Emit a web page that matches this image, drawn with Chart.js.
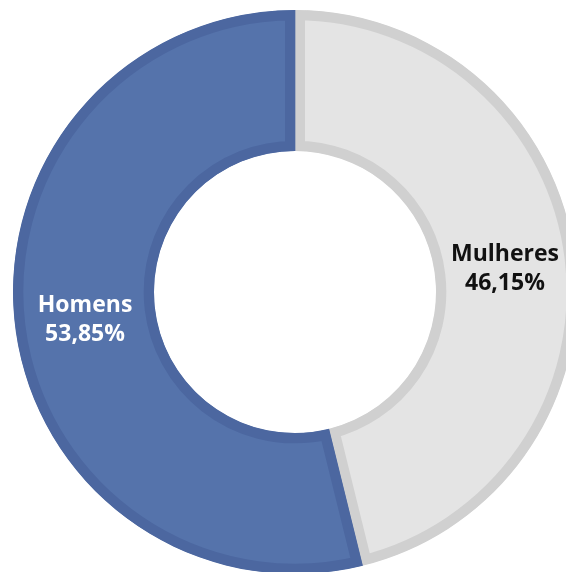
<!DOCTYPE html>
<html>
<head>
<meta charset="utf-8">
<script src="https://cdn.jsdelivr.net/npm/chart.js@4/dist/chart.umd.min.js"></script>
<style>
  html, body { margin: 0; padding: 0; background: #fff; overflow: hidden; width: 566px; height: 572px; }
  #wrap { position: absolute; left: 13px; top: 10px; width: 564px; height: 564px; }
</style>
</head>
<body>
<div id="wrap"><canvas id="genderChart"></canvas></div>
<script>
// data
const categories = ['Mulheres', 'Homens'];
const shares = [46.15, 53.85];
const fillColors = ['#e4e4e4', '#5573ab'];
const edgeColors = ['#d0d0d0', '#4c67a0'];
const textColors = ['#111111', '#ffffff'];

// writes "name / pct%" in the middle of each ring slice
const sliceLabels = {
    id: 'sliceLabels',
    afterDatasetsDraw(chart) {
        const ctx = chart.ctx;
        const arcs = chart.getDatasetMeta(0).data;
        ctx.save();
        ctx.textAlign = 'center';
        ctx.textBaseline = 'middle';
        ctx.font = 'bold 23px "Open Sans", sans-serif';
        arcs.forEach((arc, i) => {
            const mid = (arc.startAngle + arc.endAngle) / 2;
            const r = (arc.innerRadius + arc.outerRadius) / 2;
            const x = arc.x + Math.cos(mid) * r;
            const y = arc.y + Math.sin(mid) * r;
            ctx.fillStyle = textColors[i];
            ctx.fillText(categories[i], x, y - 12);
            ctx.fillText(shares[i].toFixed(2).replace('.', ',') + '%', x, y + 17);
        });
        ctx.restore();
    }
};

const genderChart = new Chart(document.getElementById('genderChart'), {
    type: 'doughnut',
    data: {
        labels: categories,
        datasets: [{
            data: shares,
            backgroundColor: fillColors,
            borderColor: edgeColors,
            borderWidth: 10,
            borderAlign: 'inner',
            hoverBorderWidth: 10,
            hoverOffset: 0
        }]
    },
    options: {
        responsive: true,
        maintainAspectRatio: false,
        animation: false,
        cutout: '50%',
        events: [],
        plugins: {
            legend: { display: false },
            tooltip: { enabled: false }
        }
    },
    plugins: [sliceLabels]
});
</script>
</body>
</html>
